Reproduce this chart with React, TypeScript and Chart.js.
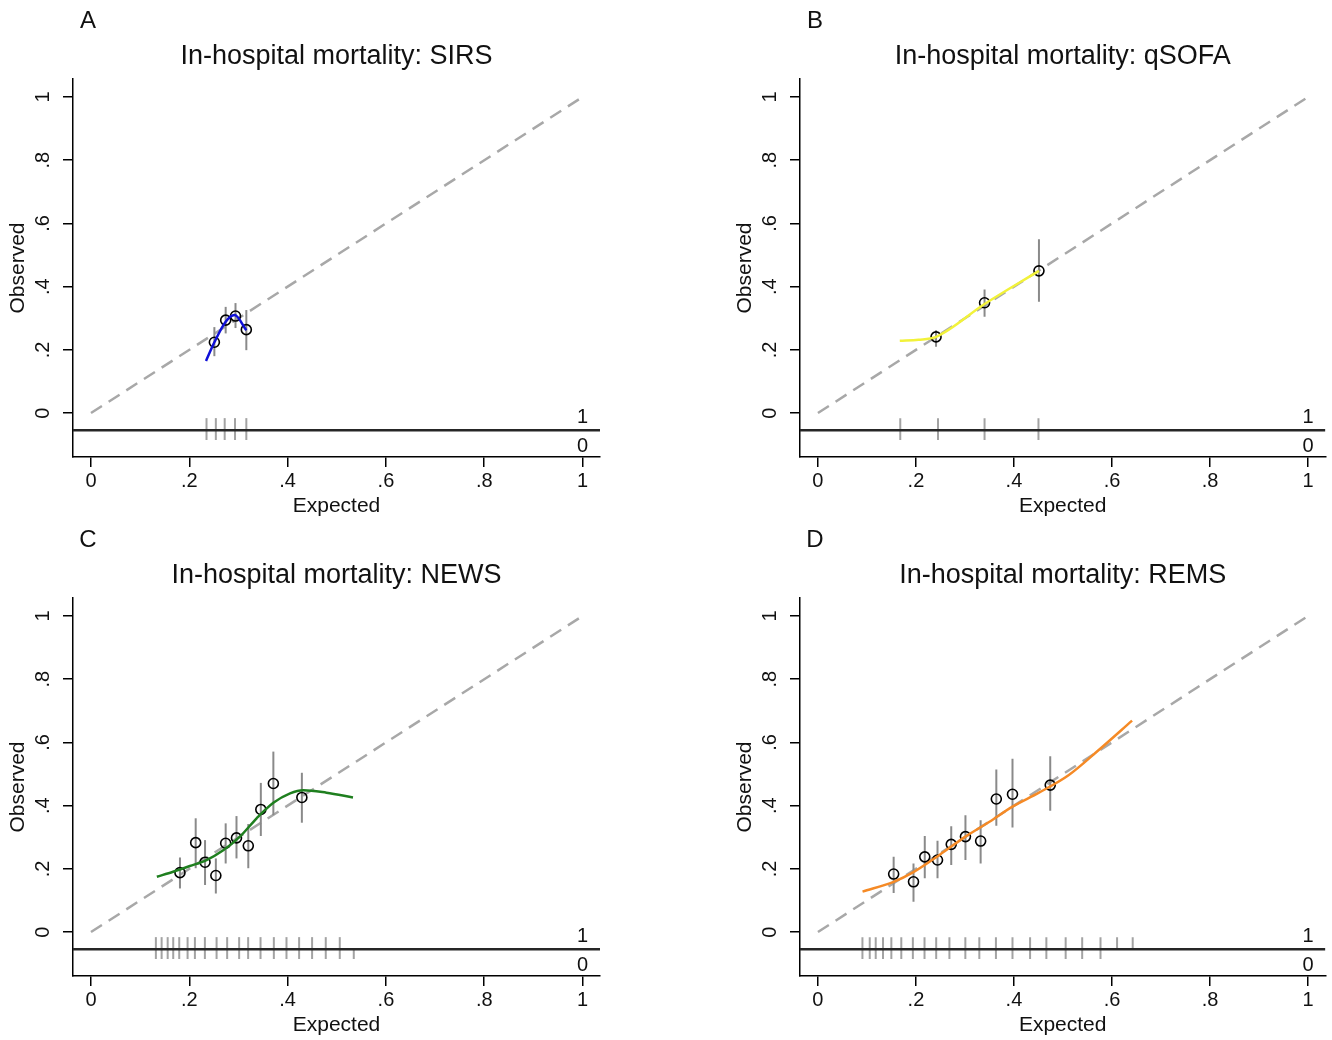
import React, { useEffect, useRef } from "react";
import { Chart, registerables } from "chart.js";

Chart.register(...registerables);

// ---------- axis / text content ----------
const AXIS_TICKS = [0, 0.2, 0.4, 0.6, 0.8, 1];
const AXIS_TICK_LABELS = ["0", ".2", ".4", ".6", ".8", "1"];
const X_TITLE = "Expected";
const Y_TITLE = "Observed";
const RUG_LABELS = ["1", "0"];

// ---------- Panel A: SIRS ----------
const sirsExpected = [0.251, 0.274, 0.294, 0.316];
const sirsObserved = [0.224, 0.294, 0.307, 0.264];
const sirsLower = [0.18, 0.252, 0.269, 0.199];
const sirsUpper = [0.272, 0.336, 0.348, 0.326];
const sirsCurveX = [0.234, 0.251, 0.274, 0.292, 0.316];
const sirsCurveY = [0.165, 0.224, 0.289, 0.31, 0.262];
const sirsRug1 = [0.235, 0.254, 0.272, 0.293, 0.316];
const sirsRug0 = [0.235, 0.254, 0.272, 0.293, 0.316];

// ---------- Panel B: qSOFA ----------
const qsofaExpected = [0.241, 0.34, 0.451];
const qsofaObserved = [0.241, 0.349, 0.45];
const qsofaLower = [0.21, 0.305, 0.352];
const qsofaUpper = [0.262, 0.391, 0.55];
const qsofaCurveX = [0.167, 0.205, 0.241, 0.34, 0.451];
const qsofaCurveY = [0.229, 0.232, 0.241, 0.345, 0.45];
const qsofaRug1 = [0.168, 0.245, 0.34, 0.45];
const qsofaRug0 = [0.168, 0.245, 0.34, 0.45];

// ---------- Panel C: NEWS ----------
const newsExpected = [0.181, 0.213, 0.232, 0.254, 0.274, 0.296, 0.32, 0.3455, 0.371, 0.429];
const newsObserved = [0.188, 0.283, 0.221, 0.179, 0.281, 0.298, 0.273, 0.388, 0.47, 0.426];
const newsLower = [0.138, 0.202, 0.149, 0.122, 0.217, 0.233, 0.202, 0.304, 0.37, 0.346];
const newsUpper = [0.236, 0.36, 0.291, 0.233, 0.344, 0.367, 0.342, 0.472, 0.571, 0.504];
const newsCurveX = [0.134, 0.167, 0.201, 0.235, 0.269, 0.303, 0.337, 0.371, 0.405, 0.432, 0.479, 0.533];
const newsCurveY = [0.175, 0.191, 0.209, 0.228, 0.259, 0.302, 0.36, 0.409, 0.439, 0.449, 0.441, 0.426];
const newsRug1 = [0.132, 0.1437, 0.156, 0.1673, 0.1795, 0.1965, 0.2114, 0.2317, 0.2555, 0.277, 0.3014, 0.3197, 0.3449, 0.372, 0.3977, 0.4234, 0.4498, 0.4776, 0.5061];
const newsRug0 = [0.132, 0.1437, 0.156, 0.1673, 0.1795, 0.1965, 0.2114, 0.2317, 0.2555, 0.277, 0.3014, 0.3197, 0.3449, 0.372, 0.3977, 0.4234, 0.4498, 0.4776, 0.5061, 0.5346];

// ---------- Panel D: REMS ----------
const remsExpected = [0.1545, 0.195, 0.218, 0.244, 0.272, 0.301, 0.332, 0.364, 0.397, 0.474];
const remsObserved = [0.1835, 0.159, 0.238, 0.228, 0.2775, 0.302, 0.288, 0.421, 0.436, 0.465];
const remsLower = [0.124, 0.096, 0.17, 0.17, 0.212, 0.228, 0.217, 0.336, 0.331, 0.384];
const remsUpper = [0.238, 0.217, 0.304, 0.289, 0.335, 0.37, 0.354, 0.514, 0.548, 0.556];
const remsCurveX = [0.091, 0.1545, 0.194, 0.248, 0.301, 0.35, 0.397, 0.451, 0.512, 0.573, 0.641];
const remsCurveY = [0.128, 0.159, 0.189, 0.244, 0.302, 0.349, 0.397, 0.441, 0.497, 0.576, 0.669];
const remsRug1 = [0.0908, 0.1057, 0.1179, 0.1328, 0.1498, 0.1701, 0.1937, 0.2175, 0.2413, 0.2683, 0.3008, 0.3293, 0.3632, 0.397, 0.4329, 0.4661, 0.5055, 0.5392, 0.5766, 0.6104, 0.6423];
const remsRug0 = [0.0908, 0.1057, 0.1179, 0.1328, 0.1498, 0.1701, 0.1937, 0.2175, 0.2413, 0.2683, 0.3008, 0.3293, 0.3632, 0.397, 0.4329, 0.4661, 0.5055, 0.5392, 0.5766];

// ---------- layout constants ----------
const X_MIN = -0.0366;
const X_MAX = 1.0355;
const Y_MIN = -0.139;
const Y_MAX = 1.057;
const RUG_BASE = -0.054;
const RUG_TOP = -0.016;
const RUG_BOTTOM = -0.085;
const CANVAS_W = 666;
const CANVAS_H = 520;
const AREA_TOP = 79;
const AREA_BOTTOM = 457;
const FONT = '"Liberation Sans", Arial, Helvetica, sans-serif';

type Panel = {
  letter: string;
  title: string;
  color: string;
  tension: number;
  expected: number[];
  observed: number[];
  lower: number[];
  upper: number[];
  curveX: number[];
  curveY: number[];
  rug1: number[];
  rug0: number[];
  posLeft: number;
  posTop: number;
  areaLeft: number;
  areaRight: number;
};

const PANELS: Panel[] = [
  {
    letter: "A", title: "In-hospital mortality: SIRS", color: "#1010d8", tension: 0.35,
    expected: sirsExpected, observed: sirsObserved, lower: sirsLower, upper: sirsUpper,
    curveX: sirsCurveX, curveY: sirsCurveY, rug1: sirsRug1, rug0: sirsRug0,
    posLeft: 0, posTop: 0, areaLeft: 73, areaRight: 600,
  },
  {
    letter: "B", title: "In-hospital mortality: qSOFA", color: "#f2f23a", tension: 0.2,
    expected: qsofaExpected, observed: qsofaObserved, lower: qsofaLower, upper: qsofaUpper,
    curveX: qsofaCurveX, curveY: qsofaCurveY, rug1: qsofaRug1, rug0: qsofaRug0,
    posLeft: 666, posTop: 0, areaLeft: 134, areaRight: 662,
  },
  {
    letter: "C", title: "In-hospital mortality: NEWS", color: "#1f7f1f", tension: 0.4,
    expected: newsExpected, observed: newsObserved, lower: newsLower, upper: newsUpper,
    curveX: newsCurveX, curveY: newsCurveY, rug1: newsRug1, rug0: newsRug0,
    posLeft: 0, posTop: 519, areaLeft: 73, areaRight: 600,
  },
  {
    letter: "D", title: "In-hospital mortality: REMS", color: "#f58a26", tension: 0.4,
    expected: remsExpected, observed: remsObserved, lower: remsLower, upper: remsUpper,
    curveX: remsCurveX, curveY: remsCurveY, rug1: remsRug1, rug0: remsRug0,
    posLeft: 666, posTop: 519, areaLeft: 134, areaRight: 662,
  },
];

function makeTextPlugin(p: Panel) {
  return {
    id: "stataText" + p.letter,
    afterDraw(chart: any) {
      const { ctx, chartArea } = chart;
      const { left, right, top, bottom } = chartArea;
      const xs = chart.scales.x;
      const ys = chart.scales.y;
      ctx.save();
      ctx.fillStyle = "#111";
      ctx.textAlign = "center";
      ctx.textBaseline = "middle";
      // panel letter
      ctx.font = `24px ${FONT}`;
      ctx.fillText(p.letter, left + 15, 21);
      // title
      ctx.font = `27px ${FONT}`;
      ctx.fillText(p.title, (left + right) / 2, 57);
      // tick labels
      ctx.font = `20px ${FONT}`;
      AXIS_TICKS.forEach((v, i) => {
        ctx.fillText(AXIS_TICK_LABELS[i], xs.getPixelForValue(v), bottom + 24);
        ctx.save();
        ctx.translate(left - 30, ys.getPixelForValue(v));
        ctx.rotate(-Math.PI / 2);
        ctx.fillText(AXIS_TICK_LABELS[i], 0, 0);
        ctx.restore();
      });
      // axis titles
      ctx.font = `21px ${FONT}`;
      ctx.fillText(X_TITLE, (left + right) / 2, bottom + 49);
      ctx.save();
      ctx.translate(left - 55, (top + bottom) / 2);
      ctx.rotate(-Math.PI / 2);
      ctx.fillText(Y_TITLE, 0, 0);
      ctx.restore();
      // rug labels
      ctx.font = `20px ${FONT}`;
      const rx = xs.getPixelForValue(1);
      const ry = ys.getPixelForValue(RUG_BASE);
      ctx.fillText(RUG_LABELS[0], rx, ry - 13);
      ctx.fillText(RUG_LABELS[1], rx, ry + 16);
      ctx.restore();
    },
  };
}

function segment(x0: number, y0: number, x1: number, y1: number, color: string, width: number, order: number, dash?: number[]) {
  return {
    type: "scatter" as const,
    data: [{ x: x0, y: y0 }, { x: x1, y: y1 }],
    showLine: true,
    borderColor: color,
    borderWidth: width,
    borderDash: dash || [],
    pointRadius: 0,
    tension: 0,
    order,
  };
}

function PanelChart({ p }: { p: Panel }) {
  const ref = useRef<HTMLCanvasElement | null>(null);
  useEffect(() => {
    if (!ref.current) return;
    const datasets: any[] = [];
    // smoothed calibration curve (top)
    datasets.push({
      type: "scatter",
      data: p.curveX.map((v, i) => ({ x: v, y: p.curveY[i] })),
      showLine: true,
      borderColor: p.color,
      borderWidth: 2.5,
      pointRadius: 0,
      tension: p.tension,
      cubicInterpolationMode: "monotone",
      order: 1,
    });
    // observed points
    datasets.push({
      type: "scatter",
      data: p.expected.map((v, i) => ({ x: v, y: p.observed[i] })),
      showLine: false,
      pointRadius: 5,
      pointBorderWidth: 1.6,
      pointBorderColor: "#000",
      pointBackgroundColor: "rgba(0,0,0,0)",
      order: 2,
    });
    // confidence intervals
    p.expected.forEach((v, i) => {
      datasets.push(segment(v, p.lower[i], v, p.upper[i], "#8a8a8a", 2, 3));
    });
    // rug baseline
    datasets.push(segment(X_MIN, RUG_BASE, X_MAX, RUG_BASE, "#262626", 2.5, 4));
    // rug ticks
    p.rug1.forEach((v) => datasets.push(segment(v, RUG_BASE, v, RUG_TOP, "#a3a3a3", 2, 5)));
    p.rug0.forEach((v) => datasets.push(segment(v, RUG_BASE, v, RUG_BOTTOM, "#a3a3a3", 2, 5)));
    // reference diagonal
    datasets.push(segment(0, 0, 1, 1, "#a8a8a8", 2.5, 6, [13, 8]));

    const axisCommon = {
      type: "linear" as const,
      ticks: { display: false },
      grid: {
        display: true,
        drawOnChartArea: false,
        drawTicks: true,
        tickLength: 10,
        color: "#000",
        lineWidth: 1.5,
      },
      border: { display: true, color: "#000", width: 1.5 },
      afterBuildTicks: (s: any) => {
        s.ticks = AXIS_TICKS.map((v) => ({ value: v }));
      },
    };

    const chart = new Chart(ref.current, {
      type: "scatter",
      data: { datasets },
      plugins: [makeTextPlugin(p)],
      options: {
        responsive: false,
        animation: false,
        events: [],
        devicePixelRatio: 1,
        layout: {
          padding: {
            left: p.areaLeft - 10,
            right: CANVAS_W - p.areaRight,
            top: AREA_TOP,
            bottom: 0,
          },
        },
        plugins: {
          legend: { display: false },
          tooltip: { enabled: false },
          title: { display: false },
        },
        scales: {
          x: {
            ...axisCommon,
            min: X_MIN,
            max: X_MAX,
            afterFit: (s: any) => {
              s.height = CANVAS_H - AREA_BOTTOM;
            },
          },
          y: {
            ...axisCommon,
            min: Y_MIN,
            max: Y_MAX,
            afterFit: (s: any) => {
              s.width = 10;
            },
          },
        },
      } as any,
    });
    return () => chart.destroy();
  }, [p]);

  return (
    <canvas
      ref={ref}
      width={CANVAS_W}
      height={CANVAS_H}
      style={{
        position: "absolute",
        left: p.posLeft,
        top: p.posTop,
        width: CANVAS_W,
        height: CANVAS_H,
      }}
    />
  );
}

export default function App() {
  return (
    <div
      style={{
        position: "absolute",
        left: 0,
        top: 0,
        width: 1332,
        height: 1040,
        background: "#fff",
        overflow: "hidden",
      }}
    >
      {PANELS.map((p) => (
        <PanelChart key={p.letter} p={p} />
      ))}
    </div>
  );
}
